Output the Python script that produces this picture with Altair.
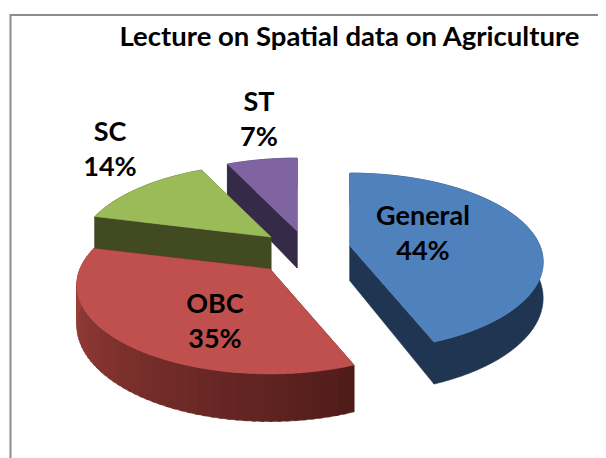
import math
import altair as alt
import pandas as pd

TITLE = "Lecture on Spatial data on Agriculture"
categories = ["General", "OBC", "SC", "ST"]
shares = [44, 35, 14, 7]
top_colors = ["#4f81bd", "#c0504d", "#9bbb59", "#8064a2"]
side_colors = ["#1f3552", "#4f1c1a", "#424a22", "#352a47"]
apex_x = [350, 270, 271, 297]
apex_y = [246, 269, 237, 231]
label_x = [423, 215, 110, 259]
label_y = [217, 305, 133, 103]
draw_order = [3, 2, 0, 1]

W, H = 590, 450
R, RK, P = 190, 86, 0.18
depths = [35, 39, 37, 37]


def project(i, deg, down=0.0):
    t = math.radians(deg)
    v = math.cos(t)
    s = 1 / (1 + P * v)
    return (apex_x[i] + R * math.sin(t) * s,
            apex_y[i] - RK * v * s + down * depths[i] * s)


def mix(c1, c2, f):
    a = [int(c1[k:k + 2], 16) for k in (1, 3, 5)]
    b = [int(c2[k:k + 2], 16) for k in (1, 3, 5)]
    return "#" + "".join(f"{round(p + (q - p) * f):02x}" for p, q in zip(a, b))


rows = []
pid = 0


def add(points, color):
    global pid
    pts = points + points[:1]
    for n, (x, y) in enumerate(pts):
        rows.append({"poly": pid, "n": n, "x": x, "y": y, "c": color})
    pid += 1


bounds, acc = [], 0
for s in shares:
    bounds.append((acc * 3.6, (acc + s) * 3.6))
    acc += s

for i in draw_order:
    a0, a1 = bounds[i]
    ax, ay = apex_x[i], apex_y[i]
    base = (ax, ay + depths[i])
    for a in (a0, a1):
        add([(ax, ay), project(i, a), project(i, a, 1), base], side_colors[i])
    steps = 60
    if i == 1:
        for k in range(steps):
            d0 = a0 + (a1 - a0) * k / steps
            d1 = min(a0 + (a1 - a0) * (k + 1.4) / steps, a1)
            c = mix("#4f1c1a", "#a8443f", (k + .5) / steps)
            add([project(i, d0), project(i, d1), project(i, d1, 1), project(i, d0, 1)], c)
    else:
        angs = [a0 + (a1 - a0) * k / steps for k in range(steps + 1)]
        add([project(i, a) for a in angs] + [project(i, a, 1) for a in reversed(angs)], side_colors[i])
    arc = [project(i, a0 + (a1 - a0) * k / 80) for k in range(81)]
    add([(ax, ay)] + arc, top_colors[i])

df = pd.DataFrame(rows)

xs = alt.Scale(domain=[8, 8 + W], range=[0, W])
ys = alt.Scale(domain=[8, 8 + H], range=[0, H])
X = alt.X("x:Q", scale=xs, axis=None)
Y = alt.Y("y:Q", scale=ys, axis=None)

pie = alt.Chart(df).mark_line(strokeWidth=0.6, interpolate="linear").encode(
    x=X, y=Y,
    detail="poly:N",
    order="n:Q",
    stroke=alt.Stroke("c:N", scale=None),
    fill=alt.Fill("c:N", scale=None),
)

frame_df = pd.DataFrame({"x": [598, 10.5, 10.5], "y": [15, 15, 458], "n": [0, 1, 2]})
frame = alt.Chart(frame_df).mark_line(color="#8c8c8c", strokeWidth=2).encode(x=X, y=Y, order="n:Q")

lab = []
for i, c in enumerate(categories):
    lab.append({"x": label_x[i], "y": label_y[i], "t": c})
    lab.append({"x": label_x[i], "y": label_y[i] + 35, "t": f"{shares[i]}%"})
labels = alt.Chart(pd.DataFrame(lab)).mark_text(
    font="Lato", fontWeight="bold", fontSize=27, color="#000000", align="center", baseline="middle"
).encode(x=X, y=Y, text="t:N")

title = alt.Chart(pd.DataFrame({"x": [349.5], "y": [38], "t": [TITLE]})).mark_text(
    font="Lato", fontWeight="bold", fontSize=27.5, color="#000000", align="center", baseline="middle"
).encode(x=X, y=Y, text="t:N")

chart = alt.layer(frame, pie, labels, title).properties(
    width=W, height=H, padding=0, autosize=alt.AutoSizeParams(type="none"), background="white"
).configure_view(stroke=None)

chart.save("out.html", embed_options={"renderer": "svg", "actions": False})
